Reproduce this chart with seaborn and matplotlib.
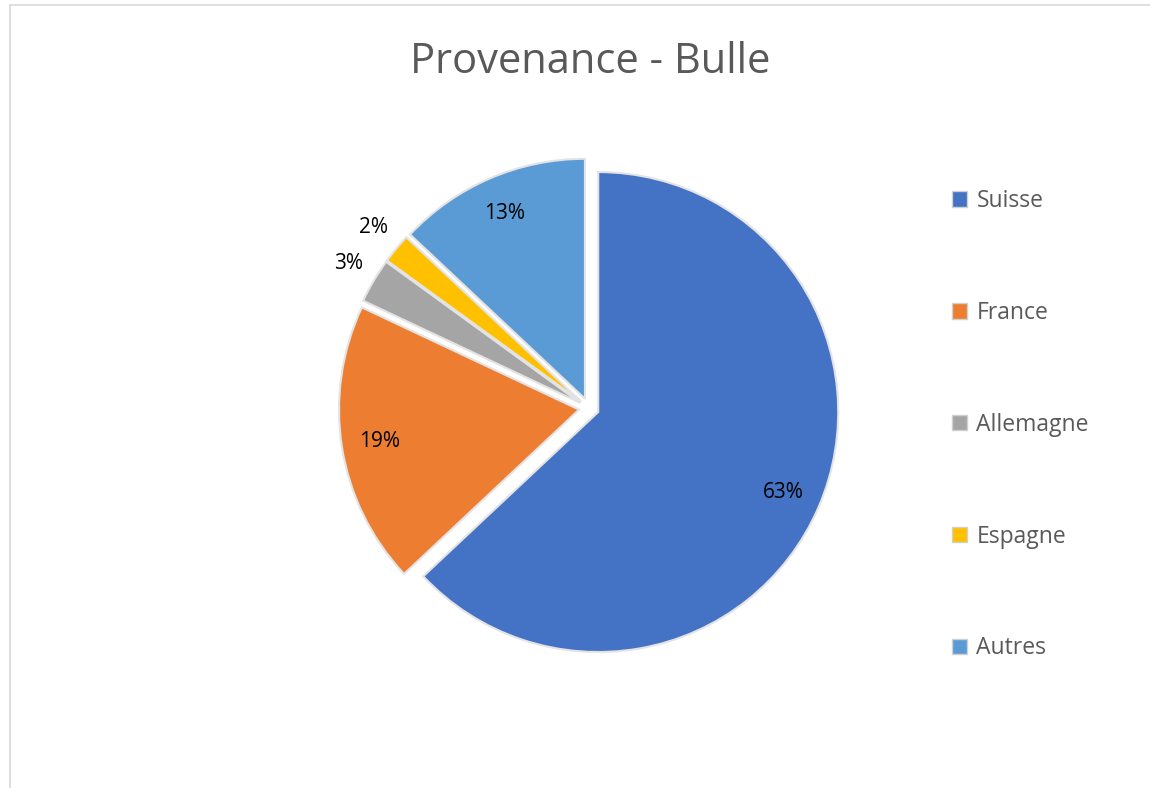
import matplotlib
matplotlib.use("Agg")
import matplotlib.pyplot as plt
import matplotlib.patches as mpatches
import seaborn as sns

# données
pays = ["Suisse", "France", "Allemagne", "Espagne", "Autres"]
parts = [63, 19, 3, 2, 13]
couleurs = ["#4472C4", "#ED7D31", "#A5A5A5", "#FFC000", "#5B9BD5"]

sns.set_theme(style="white")
plt.rcParams["font.family"] = ["Open Sans", "DejaVu Sans"]

palette = sns.color_palette(couleurs)

fig = plt.figure(figsize=(11.5, 7.88), dpi=100)
ax = fig.add_axes([0.2513, 0.1015, 0.5217, 0.7614])

wedges, texts, autotexts = ax.pie(
    parts,
    colors=palette,
    startangle=90,
    counterclock=False,
    explode=[0.042] * len(parts),
    autopct="%1.0f%%",
    pctdistance=0.84,
    wedgeprops=dict(edgecolor="#e3e3e3", linewidth=1.5),
    textprops=dict(fontsize=15, color="black"),
)

# étiquettes des petites parts à l'extérieur
for val, t in zip(parts, autotexts):
    if val < 5:
        x, y = t.get_position()
        t.set_position((x * 1.32, y * 1.34))

fig.text(0.513, 0.907, "Provenance - Bulle", ha="center", va="baseline",
         fontsize=30, color="#595959")

handles = [mpatches.Patch(facecolor=c, edgecolor="#d0d0d0", label=p) for c, p in zip(palette, pays)]
fig.legend(
    handles=handles,
    loc="upper left",
    bbox_to_anchor=(0.810, 0.786),
    frameon=False,
    fontsize=16.5,
    labelcolor="#595959",
    handlelength=0.66,
    handleheight=0.66,
    handletextpad=0.4,
    labelspacing=3.83,
)

# cadre du graphique
fig.patches.append(mpatches.Rectangle((0.009, -0.05), 1.2, 1.0437, transform=fig.transFigure,
                                      fill=False, edgecolor="#d9d9d9", linewidth=1.2))

plt.savefig("out.png", dpi=100)
plt.close()
